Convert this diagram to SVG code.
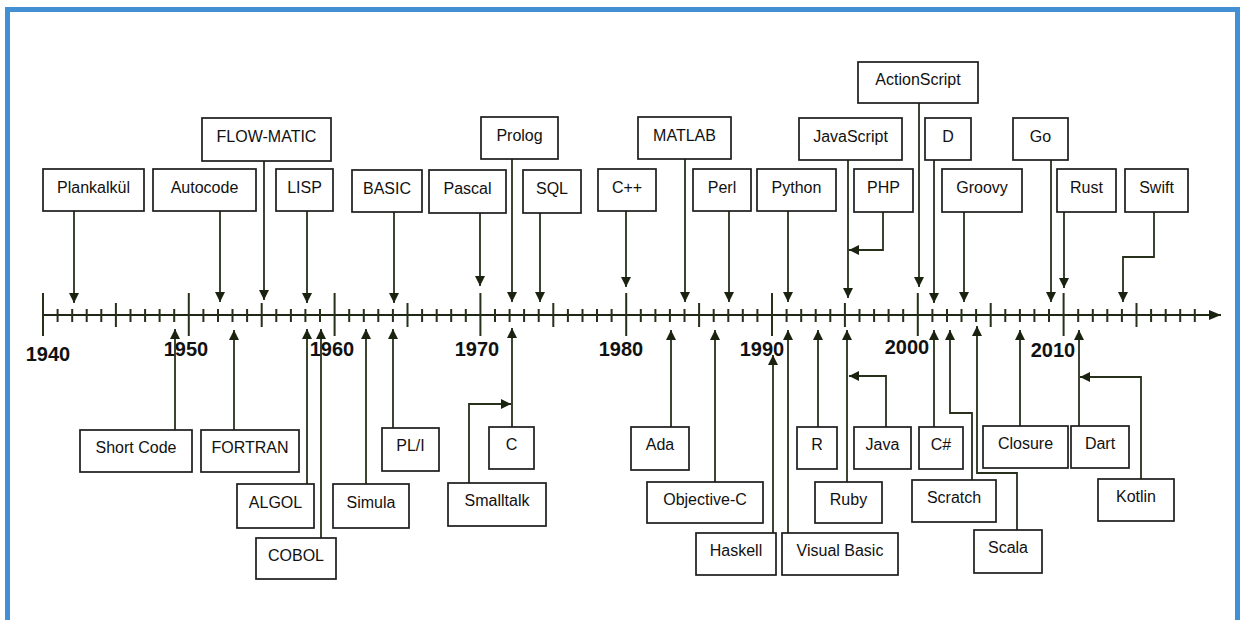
<svg xmlns="http://www.w3.org/2000/svg" width="1240" height="620" viewBox="0 0 1240 620">
<defs>
<style>
.bg{fill:#ffffff}
.frame{fill:none;stroke:#428fd4;stroke-width:5}
.box rect{fill:#ffffff;stroke:#1c1c1c;stroke-width:1.7}
.box text{font-family:"Liberation Sans",Arial,sans-serif;font-size:16px;fill:#111;text-anchor:middle}
.yr{font-family:"Liberation Sans",Arial,sans-serif;font-size:20px;font-weight:bold;fill:#111;text-anchor:middle}
.axis{stroke:#1f2814;stroke-width:2.2;fill:none}
.tick{stroke:#26301a;stroke-width:2;fill:none}
.conn path{stroke:#26301a;stroke-width:1.8;fill:none;marker-end:url(#ah)}
</style>
<marker id="ah" markerUnits="userSpaceOnUse" markerWidth="10" markerHeight="10" refX="10" refY="5" orient="auto">
<path d="M0,0 L10,5 L0,10 z" fill="#1a2210"/>
</marker>
<marker id="axh" markerUnits="userSpaceOnUse" markerWidth="12" markerHeight="10" refX="12" refY="5" orient="auto">
<path d="M0,0 L12,5 L0,10 z" fill="#1a2210"/>
</marker>
</defs>
<rect class="bg" x="0" y="0" width="1240" height="620"/>
<rect class="frame" x="7.5" y="9.5" width="1230" height="700"/>

<g id="axis">
<path class="axis" d="M43 315 H1221" marker-end="url(#axh)"/>
<path class="tick" d="M57.6 309v13M72.2 309v13M86.7 309v13M101.3 309v13M130.5 309v13M145.1 309v13M159.6 309v13M174.2 309v13M203.4 309v13M218 309v13M232.5 309v13M247.1 309v13M276.3 309v13M290.9 309v13M305.4 309v13M320 309v13M349.2 309v13M363.8 309v13M378.3 309v13M392.9 309v13M422.1 309v13M436.7 309v13M451.2 309v13M465.8 309v13M495 309v13M509.6 309v13M524.1 309v13M538.7 309v13M567.9 309v13M582.5 309v13M597 309v13M611.6 309v13M640.8 309v13M655.4 309v13M669.9 309v13M684.5 309v13M713.7 309v13M728.3 309v13M742.8 309v13M757.4 309v13M786.6 309v13M801.2 309v13M815.7 309v13M830.3 309v13M859.5 309v13M874.1 309v13M888.6 309v13M903.2 309v13M932.4 309v13M947 309v13M961.5 309v13M976.1 309v13M1005.3 309v13M1019.9 309v13M1034.4 309v13M1049 309v13M1078.2 309v13M1092.8 309v13M1107.3 309v13M1121.9 309v13M1151.1 309v13M1165.7 309v13M1180.2 309v13M1194.8 309v13"/>
<path class="tick" d="M115.9 303v24M261.7 303v24M407.5 303v24M553.3 303v24M699.1 303v24M844.9 303v24M990.7 303v24M1136.5 303v24"/>
<path class="tick" d="M43 293v43M188.8 293v43M334.6 293v43M480.4 293v43M626.2 293v43M772 293v43M917.8 293v43M1063.6 293v43"/>
<text class="yr" x="48" y="361">1940</text>
<text class="yr" x="186" y="356">1950</text>
<text class="yr" x="332" y="356">1960</text>
<text class="yr" x="477" y="356">1970</text>
<text class="yr" x="621" y="356">1980</text>
<text class="yr" x="762" y="356">1990</text>
<text class="yr" x="907" y="354">2000</text>
<text class="yr" x="1053" y="357">2010</text>
</g>

<g id="connectors" class="conn">
<path d="M74 211 V303"/>
<path d="M220 211 V302"/>
<path d="M264 161 V300"/>
<path d="M307 211 V303"/>
<path d="M394 212 V303"/>
<path d="M480 213 V286"/>
<path d="M512 159 V302"/>
<path d="M540 213 V302"/>
<path d="M626 211 V287"/>
<path d="M685 159 V302"/>
<path d="M729 211 V302"/>
<path d="M788 211 V302"/>
<path d="M848 160 V298"/>
<path d="M883 212 V250 H849"/>
<path d="M919 103 V287"/>
<path d="M934 160 V303"/>
<path d="M964 212 V302"/>
<path d="M1051 160 V302"/>
<path d="M1064 212 V288"/>
<path d="M1154 212 V257 H1123 V302"/>
<path d="M175 430 V329"/>
<path d="M234 430 V330"/>
<path d="M307 484 V329"/>
<path d="M321 538 V329"/>
<path d="M366 484 V329"/>
<path d="M393 428 V329"/>
<path d="M512 427 V328"/>
<path d="M469 483 V404 H511"/>
<path d="M671 427 V330"/>
<path d="M715 482 V330"/>
<path d="M773 533 V355"/>
<path d="M788 533 V330"/>
<path d="M818 427 V330"/>
<path d="M886 427 V376 H849"/>
<path d="M847 482 V330"/>
<path d="M934 427 V330"/>
<path d="M972 480 V413 H950 V330"/>
<path d="M1017 530 V473 H977 V326"/>
<path d="M1020 426 V330"/>
<path d="M1079 426 V330"/>
<path d="M1141 479 V377 H1080"/>
</g>

<g id="plankalkul" class="box"><rect x="43" y="169" width="101" height="42"/><text x="93.5" y="193">Plankalkül</text></g>
<g id="autocode" class="box"><rect x="153" y="169" width="103" height="42"/><text x="204.5" y="193">Autocode</text></g>
<g id="flowmatic" class="box"><rect x="202" y="118" width="129" height="43"/><text x="266.5" y="142">FLOW-MATIC</text></g>
<g id="lisp" class="box"><rect x="276" y="169" width="57" height="42"/><text x="304.5" y="193">LISP</text></g>
<g id="basic" class="box"><rect x="352" y="170" width="70" height="42"/><text x="387" y="194">BASIC</text></g>
<g id="pascal" class="box"><rect x="429" y="170" width="77" height="43"/><text x="467.5" y="194">Pascal</text></g>
<g id="prolog" class="box"><rect x="481" y="117" width="77" height="42"/><text x="519.5" y="141">Prolog</text></g>
<g id="sql" class="box"><rect x="523" y="170" width="58" height="43"/><text x="552" y="194">SQL</text></g>
<g id="cpp" class="box"><rect x="598" y="169" width="58" height="42"/><text x="627" y="193">C++</text></g>
<g id="matlab" class="box"><rect x="638" y="117" width="93" height="42"/><text x="684.5" y="141">MATLAB</text></g>
<g id="perl" class="box"><rect x="693" y="169" width="58" height="42"/><text x="722" y="193">Perl</text></g>
<g id="python" class="box"><rect x="757" y="169" width="79" height="42"/><text x="796.5" y="193">Python</text></g>
<g id="javascript" class="box"><rect x="799" y="118" width="103" height="42"/><text x="850.5" y="142">JavaScript</text></g>
<g id="actionscript" class="box"><rect x="858" y="62" width="120" height="41"/><text x="918" y="85">ActionScript</text></g>
<g id="php" class="box"><rect x="854" y="169" width="59" height="43"/><text x="883.5" y="193">PHP</text></g>
<g id="d" class="box"><rect x="925" y="118" width="46" height="42"/><text x="948" y="142">D</text></g>
<g id="groovy" class="box"><rect x="942" y="169" width="80" height="43"/><text x="982" y="193">Groovy</text></g>
<g id="go" class="box"><rect x="1013" y="118" width="55" height="42"/><text x="1040.5" y="142">Go</text></g>
<g id="rust" class="box"><rect x="1057" y="169" width="59" height="43"/><text x="1086.5" y="193">Rust</text></g>
<g id="swift" class="box"><rect x="1125" y="169" width="63" height="43"/><text x="1156.5" y="193">Swift</text></g>

<g id="shortcode" class="box"><rect x="80" y="430" width="112" height="42"/><text x="136" y="453">Short Code</text></g>
<g id="fortran" class="box"><rect x="201" y="430" width="98" height="42"/><text x="250" y="453">FORTRAN</text></g>
<g id="algol" class="box"><rect x="237" y="484" width="77" height="44"/><text x="275.5" y="508">ALGOL</text></g>
<g id="cobol" class="box"><rect x="256" y="538" width="80" height="41"/><text x="296" y="561">COBOL</text></g>
<g id="simula" class="box"><rect x="333" y="484" width="76" height="44"/><text x="371" y="508">Simula</text></g>
<g id="pli" class="box"><rect x="382" y="428" width="57" height="43"/><text x="410.5" y="451">PL/I</text></g>
<g id="c" class="box"><rect x="489" y="427" width="45" height="42"/><text x="511.5" y="450">C</text></g>
<g id="smalltalk" class="box"><rect x="448" y="483" width="98" height="43"/><text x="497" y="506">Smalltalk</text></g>
<g id="ada" class="box"><rect x="631" y="427" width="58" height="43"/><text x="660" y="450">Ada</text></g>
<g id="objectivec" class="box"><rect x="647" y="482" width="116" height="41"/><text x="705" y="505">Objective-C</text></g>
<g id="haskell" class="box"><rect x="696" y="533" width="80" height="42"/><text x="736" y="556">Haskell</text></g>
<g id="visualbasic" class="box"><rect x="782" y="533" width="116" height="42"/><text x="840" y="556">Visual Basic</text></g>
<g id="r" class="box"><rect x="797" y="427" width="40" height="42"/><text x="817" y="450">R</text></g>
<g id="java" class="box"><rect x="854" y="427" width="57" height="42"/><text x="882.5" y="450">Java</text></g>
<g id="ruby" class="box"><rect x="815" y="482" width="67" height="41"/><text x="848.5" y="505">Ruby</text></g>
<g id="csharp" class="box"><rect x="919" y="427" width="44" height="42"/><text x="941" y="450">C#</text></g>
<g id="scratch" class="box"><rect x="912" y="480" width="84" height="42"/><text x="954" y="503">Scratch</text></g>
<g id="scala" class="box"><rect x="974" y="530" width="68" height="43"/><text x="1008" y="553">Scala</text></g>
<g id="closure" class="box"><rect x="983" y="426" width="85" height="42"/><text x="1025.5" y="449">Closure</text></g>
<g id="dart" class="box"><rect x="1071" y="426" width="58" height="42"/><text x="1100" y="449">Dart</text></g>
<g id="kotlin" class="box"><rect x="1098" y="479" width="76" height="42"/><text x="1136" y="502">Kotlin</text></g>
</svg>
